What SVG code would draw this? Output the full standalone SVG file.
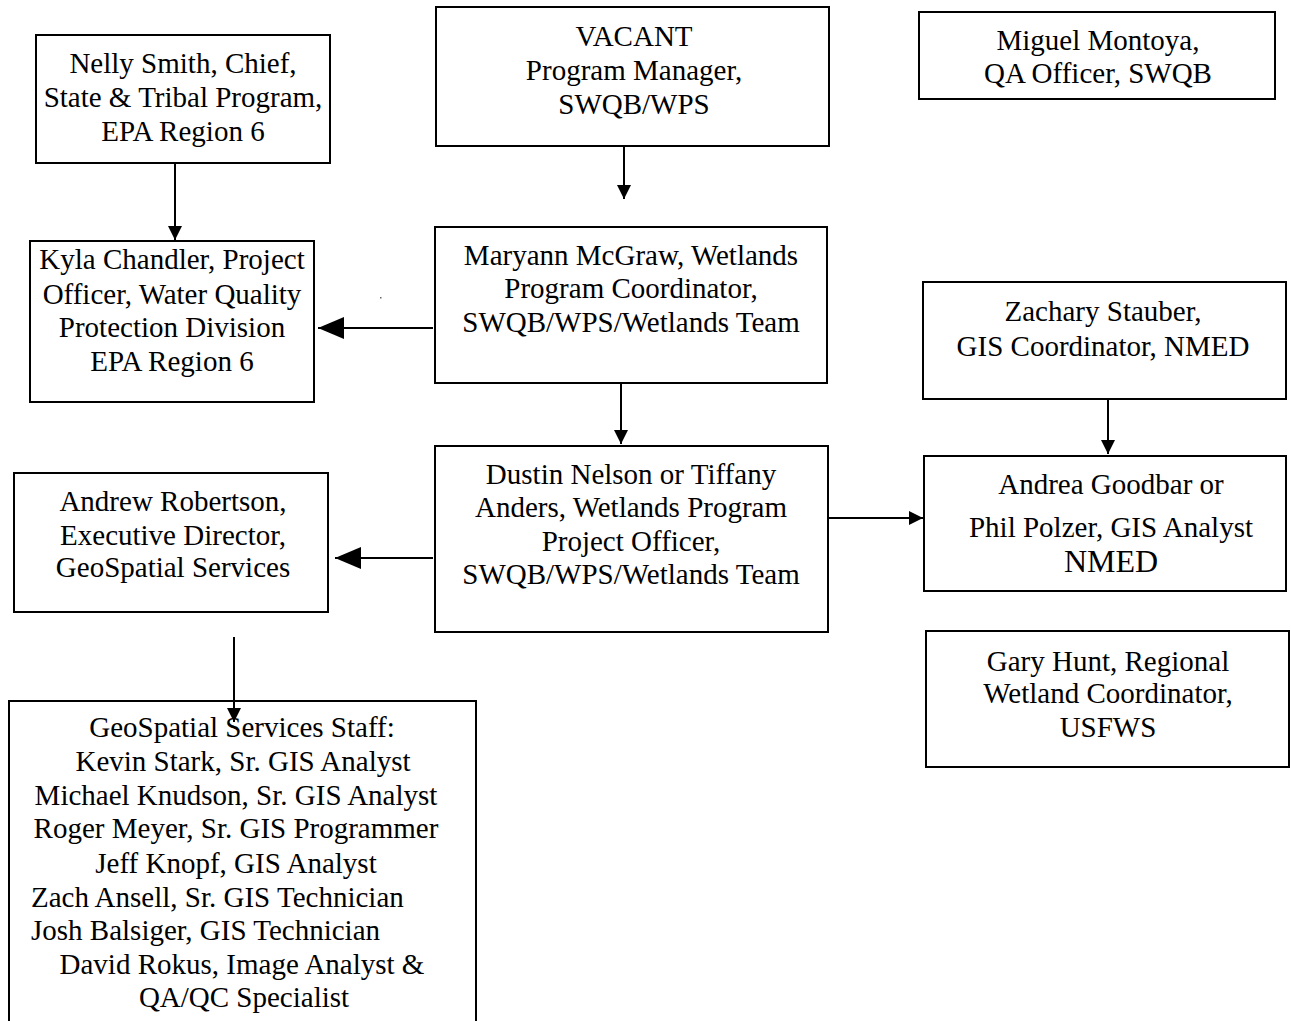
<svg xmlns="http://www.w3.org/2000/svg" width="1291" height="1021" viewBox="0 0 1291 1021">
<style>
.box{fill:#fff;stroke:#000;stroke-width:2}
text{font-family:"Liberation Serif","Times New Roman",serif;font-size:29px;fill:#000;text-anchor:middle}
.conn line{stroke:#000;stroke-width:2}
</style>
<defs>
<marker id="sm" markerUnits="userSpaceOnUse" markerWidth="16" markerHeight="16" refX="14" refY="7" orient="auto"><path d="M0,0 L14,7 L0,14 z" fill="#000"/></marker>
<marker id="lg" markerUnits="userSpaceOnUse" markerWidth="28" markerHeight="24" refX="26" refY="11" orient="auto"><path d="M0,0 L26,11 L0,22 z" fill="#000"/></marker>
</defs>
<rect width="1291" height="1021" fill="#fff"/>
<g id="nelly"><rect class="box" x="36" y="35" width="294" height="128"/>
<text x="183" y="73">Nelly Smith, Chief,</text><text x="183" y="107">State &amp; Tribal Program,</text><text x="183" y="141">EPA Region 6</text></g>
<g id="kyla"><rect class="box" x="30" y="241" width="284" height="161"/>
<text x="172" y="269">Kyla Chandler, Project</text><text x="172" y="304">Officer, Water Quality</text><text x="172" y="337">Protection Division</text><text x="172" y="371">EPA Region 6</text></g>
<g id="vacant"><rect class="box" x="436" y="7" width="393" height="139"/>
<text x="634" y="46">VACANT</text><text x="634" y="80">Program Manager,</text><text x="634" y="114">SWQB/WPS</text></g>
<g id="miguel"><rect class="box" x="919" y="12" width="356" height="87"/>
<text x="1098" y="50">Miguel Montoya,</text><text x="1098" y="83">QA Officer, SWQB</text></g>
<g id="maryann"><rect class="box" x="435" y="227" width="392" height="156"/>
<text x="631" y="265">Maryann McGraw, Wetlands</text><text x="631" y="298">Program Coordinator,</text><text x="631" y="332">SWQB/WPS/Wetlands Team</text></g>
<g id="zachary"><rect class="box" x="923" y="282" width="363" height="117"/>
<text x="1103" y="321">Zachary Stauber,</text><text x="1103" y="356">GIS Coordinator, NMED</text></g>
<g id="andrew"><rect class="box" x="14" y="473" width="314" height="139"/>
<text x="173" y="511">Andrew Robertson,</text><text x="173" y="545">Executive Director,</text><text x="173" y="577">GeoSpatial Services</text></g>
<g id="dustin"><rect class="box" x="435" y="446" width="393" height="186"/>
<text x="631" y="484">Dustin Nelson or Tiffany</text><text x="631" y="517">Anders, Wetlands Program</text><text x="631" y="551">Project Officer,</text><text x="631" y="584">SWQB/WPS/Wetlands Team</text></g>
<g id="andrea"><rect class="box" x="924" y="456" width="362" height="135"/>
<text x="1111" y="494">Andrea Goodbar or</text><text x="1111" y="537">Phil Polzer, GIS Analyst</text><text x="1111" y="572" style="font-size:32px">NMED</text></g>
<g id="gary"><rect class="box" x="926" y="631" width="363" height="136"/>
<text x="1108" y="671">Gary Hunt, Regional</text><text x="1108" y="703">Wetland Coordinator,</text><text x="1108" y="737">USFWS</text></g>
<g id="staff"><rect class="box" x="9" y="701" width="467" height="340"/>
<text x="242" y="737">GeoSpatial Services Staff:</text>
<text x="243" y="771">Kevin Stark, Sr. GIS Analyst</text>
<text x="236" y="805">Michael Knudson, Sr. GIS Analyst</text>
<text x="236" y="838">Roger Meyer, Sr. GIS Programmer</text>
<text x="236" y="873">Jeff Knopf, GIS Analyst</text>
<text x="31" y="907" style="text-anchor:start">Zach Ansell, Sr. GIS Technician</text>
<text x="31" y="940" style="text-anchor:start">Josh Balsiger, GIS Technician</text>
<text x="242" y="974">David Rokus, Image Analyst &amp;</text>
<text x="244" y="1007">QA/QC Specialist</text></g>
<g id="connectors" class="conn">
<line x1="175" y1="163" x2="175" y2="240" marker-end="url(#sm)"/>
<line x1="624" y1="146" x2="624" y2="199" marker-end="url(#sm)"/>
<line x1="433" y1="328" x2="318" y2="328" marker-end="url(#lg)"/>
<line x1="621" y1="383" x2="621" y2="444" marker-end="url(#sm)"/>
<line x1="1108" y1="399" x2="1108" y2="454" marker-end="url(#sm)"/>
<line x1="828" y1="518" x2="923" y2="518" marker-end="url(#sm)"/>
<line x1="433" y1="558" x2="335" y2="558" marker-end="url(#lg)"/>
<line x1="234" y1="637" x2="234" y2="722" marker-end="url(#sm)"/>
</g>
<rect x="380" y="297" width="1.5" height="1.5" fill="#666"/>
</svg>
